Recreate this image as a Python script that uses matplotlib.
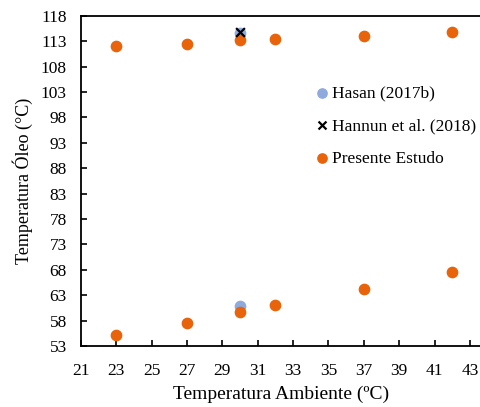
import matplotlib.pyplot as plt

# dados
t_amb_presente = [23, 27, 30, 32, 37, 42, 23, 27, 30, 32, 37, 42]
t_oleo_presente = [112.0, 112.5, 113.2, 113.4, 114.1, 114.9,
                   55.1, 57.6, 59.7, 61.0, 64.3, 67.6]
t_amb_hasan = [30, 30]
t_oleo_hasan = [114.7, 60.9]
t_amb_hannun = [30]
t_oleo_hannun = [114.8]

xticks = list(range(21, 44, 2))
yticks = list(range(53, 119, 5))

plt.rcParams['font.family'] = ['Liberation Serif', 'DejaVu Serif']

fig = plt.figure(figsize=(4.81, 4.07), dpi=100)
ax = fig.add_axes([0.168, 0.150, 0.832, 0.811])

ax.scatter(t_amb_hasan, t_oleo_hasan, s=55, color='#8FAADC', label='Hasan (2017b)', zorder=2)
ax.scatter(t_amb_hannun, t_oleo_hannun, s=40, marker='x', color='black', linewidths=1.6,
           label='Hannun et al. (2018)', zorder=3)
ax.scatter(t_amb_presente, t_oleo_presente, s=55, color='#E8630A', label='Presente Estudo', zorder=2)

ax.set_xlim(21, 43.62)
ax.set_ylim(53, 118)
ax.set_xticks(xticks)
ax.set_yticks(yticks)
ax.tick_params(direction='in', length=4, width=1.2, labelsize=12.5)
ax.tick_params(axis='x', pad=12)
ax.tick_params(axis='y', pad=10)
for s in ['left', 'bottom', 'top']:
    ax.spines[s].set_linewidth(1.3)
ax.spines['right'].set_visible(False)

ax.set_xlabel('Temperatura Ambiente (ºC)', fontsize=14, labelpad=5)
ax.set_ylabel('Temperatura Óleo (°C)', fontsize=13, labelpad=6)

ax.legend(loc='upper left', bbox_to_anchor=(0.585, 0.79), frameon=False, fontsize=12.5,
          handletextpad=0.2, handlelength=0.8, labelspacing=0.95, borderaxespad=0,
          borderpad=0, markerscale=0.9)

fig.savefig('out.png', dpi=100)
